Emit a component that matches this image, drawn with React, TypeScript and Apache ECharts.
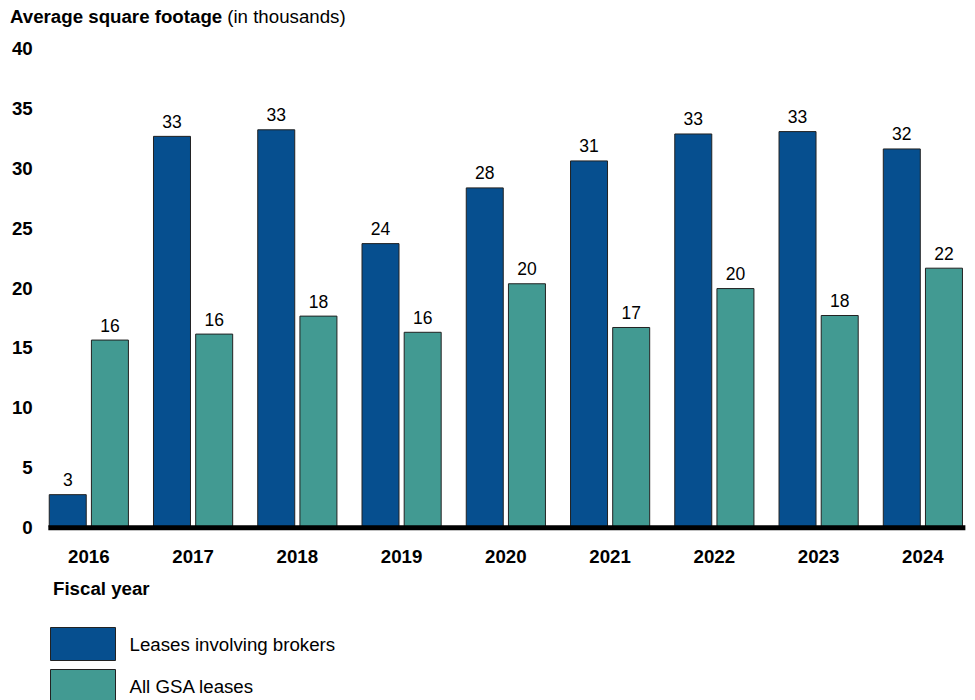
import React, { useEffect, useRef } from "react";
import * as echarts from "echarts";

const years = ["2016", "2017", "2018", "2019", "2020", "2021", "2022", "2023", "2024"];
const brokerValues = [2.8, 32.7, 33.25, 23.75, 28.4, 30.65, 32.9, 33.1, 31.65];
const gsaValues = [15.7, 16.2, 17.7, 16.35, 20.4, 16.75, 20.0, 17.75, 21.7];
const yTicks = { min: 0, max: 40, interval: 5 };

const BROKER_COLOR = "#064f8f";
const GSA_COLOR = "#429a92";
const FONT = "Liberation Sans, Arial, sans-serif";
const FS = 18.7;

export default function App() {
  const ref = useRef<HTMLDivElement>(null);

  useEffect(() => {
    document.body.style.margin = "0";
    const chart = echarts.init(ref.current!, null, { renderer: "svg" });
    const labelCfg = {
      show: true,
      position: "top" as const,
      distance: 5,
      color: "#000",
      fontSize: 17.5,
      fontFamily: FONT,
      formatter: (p: any) => String(Math.round(p.value)),
    };
    chart.setOption({
      animation: false,
      textStyle: { fontFamily: FONT },
      grid: { left: 36.7, right: -3, top: 48.4, bottom: 172.3, containLabel: false },
      title: {
        left: 10,
        top: 7,
        padding: 0,
        text: "{b|Average square footage} {n|(in thousands)}",
        textStyle: {
          fontWeight: "normal",
          rich: {
            b: { fontSize: FS, fontWeight: "bold", color: "#000", fontFamily: FONT },
            n: { fontSize: FS, fontWeight: "normal", color: "#000", fontFamily: FONT },
          },
        },
      },
      legend: {
        orient: "vertical",
        left: 50,
        top: 627,
        height: 120,
        padding: 0,
        itemWidth: 65,
        itemHeight: 33,
        itemGap: 8,
        icon: "rect",
        textStyle: { fontSize: FS, color: "#000", fontFamily: FONT, padding: [0, 0, 0, 9] },
        itemStyle: { borderColor: "#222", borderWidth: 1 },
        data: ["Leases involving brokers", "All GSA leases"],
      },
      xAxis: {
        type: "category",
        data: years,
        axisLine: { show: false },
        axisTick: { show: false },
        axisLabel: { fontSize: FS, fontWeight: "bold", color: "#000", margin: 19, fontFamily: FONT },
      },
      yAxis: {
        type: "value",
        min: yTicks.min,
        max: yTicks.max,
        interval: yTicks.interval,
        splitLine: { show: false },
        axisLine: { show: false },
        axisTick: { show: false },
        axisLabel: { fontSize: FS, fontWeight: "bold", color: "#000", margin: 4, fontFamily: FONT },
      },
      series: [
        {
          name: "Leases involving brokers",
          type: "bar",
          data: brokerValues,
          barWidth: 38,
          barGap: "11%",
          itemStyle: { color: BROKER_COLOR, borderColor: "#222", borderWidth: 1 },
          label: labelCfg,
        },
        {
          name: "All GSA leases",
          type: "bar",
          data: gsaValues,
          barWidth: 38,
          barGap: "11%",
          itemStyle: { color: GSA_COLOR, borderColor: "#222", borderWidth: 1 },
          label: labelCfg,
        },
      ],
    });

    const first = chart.convertToPixel({ xAxisIndex: 0 }, years[0]) as number;
    const last = chart.convertToPixel({ xAxisIndex: 0 }, years[years.length - 1]) as number;
    const zeroY = chart.convertToPixel({ yAxisIndex: 0 }, 0) as number;
    const halfGroup = 40.5;
    chart.setOption({
      graphic: [
        {
          type: "rect",
          shape: { x: first - halfGroup, y: zeroY - 2.5, width: last - first + 2 * halfGroup + 2, height: 5 },
          style: { fill: "#000" },
          z: 100,
        },
        {
          type: "text",
          left: 53,
          top: 579,
          style: { text: "Fiscal year", fontSize: FS, fontWeight: "bold", fill: "#000", fontFamily: FONT },
        },
      ],
    });

    return () => chart.dispose();
  }, []);

  return <div ref={ref} style={{ width: 975, height: 700 }} />;
}
